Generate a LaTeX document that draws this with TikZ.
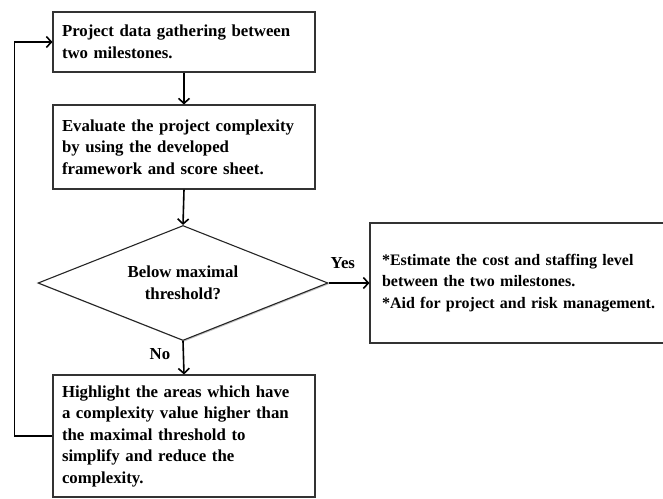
\documentclass[tikz,border=0pt]{standalone}
\usepackage{fontspec}
\setmainfont{Liberation Serif}
\usetikzlibrary{shapes.geometric,arrows.meta,shadows}
\begin{document}
\begin{tikzpicture}[x=1pt,y=-1pt,
  txt/.style={font=\bfseries\fontsize{16.8}{21.5}\selectfont},
  box/.style={txt,draw=black!80,line width=1.1pt,fill=white,align=left,
    inner sep=0pt,anchor=center,
    drop shadow={shadow xshift=1.2pt,shadow yshift=-1.2pt,fill=black!40,opacity=.6}},
  dia/.style={txt,draw=black!85,line width=1.1pt,diamond,shape aspect=2.52,align=center,inner sep=0pt,
    minimum width=290pt,minimum height=115pt,fill=white,
    drop shadow={shadow xshift=1.2pt,shadow yshift=-1.2pt,fill=black!40,opacity=.6}},
  arr/.style={line width=1.6pt,-{Straight Barb[length=5pt,width=11pt,line width=1.6pt]}},
  lbl/.style={txt}]
\useasboundingbox (0,0) rectangle (663,498);
\node[box,minimum width=262pt,minimum height=60pt,text width=244pt] (b1) at (184,42)
  {Project data gathering between\\two milestones.};
\node[box,minimum width=262pt,minimum height=84pt,text width=244pt] (b2) at (184,147)
  {Evaluate the project complexity\\by using the developed\\framework and score sheet.};
\node[dia] (d) at (183,283) {Below maximal\\threshold?};
\node[box,minimum width=262pt,minimum height=122pt,text width=244pt] (b4) at (184,436)
  {Highlight the areas which have\\a complexity value higher than\\the maximal threshold to\\simplify and reduce the\\complexity.};
\node[box,minimum width=324pt,minimum height=120pt,text width=300pt,
  font=\bfseries\fontsize{16}{21.5}\selectfont] (b5) at (532,283)
  {*Estimate the cost and staffing level\\{}between the two milestones.\\{}*Aid for project and risk management.};
\draw[arr] (b1.south) -- (b2.north);
\draw[arr] (b2.south) -- (d.north);
\draw[arr] (d.south) -- (b4.north) node[lbl,pos=0.4,left=9pt] {No};
\draw[arr] (d.east) -- (b5.west) node[lbl,pos=0.35,above=10pt] {Yes};
\draw[arr] (b4.west) -- ++(-38,0) |- (b1.west);
\end{tikzpicture}
\end{document}
